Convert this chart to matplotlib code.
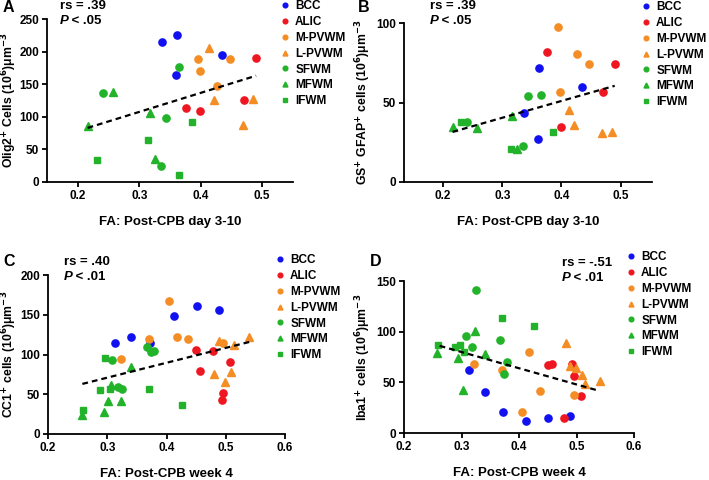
import numpy as np
import matplotlib
matplotlib.use('Agg')
import matplotlib.pyplot as plt

plt.rcParams['font.family'] = ['Liberation Sans', 'DejaVu Sans']
plt.rcParams['font.weight'] = 'bold'
plt.rcParams['mathtext.default'] = 'bf'

groups = ['BCC', 'ALIC', 'M-PVWM', 'L-PVWM', 'SFWM', 'MFWM', 'IFWM']
colors = ['#1010f0', '#ee1620', '#f58d25', '#f58d25', '#22b32a', '#22b32a', '#22b32a']
markers = ['o', 'o', 'o', '^', 'o', '^', 's']

# FA post-CPB day 3-10 (panels A, B)
x_day = [[0.337, 0.362, 0.360, 0.434],
         [0.376, 0.399, 0.470, 0.490],
         [0.395, 0.398, 0.447, 0.426],
         [0.413, 0.422, 0.469, 0.485],
         [0.241, 0.365, 0.344, 0.335],
         [0.216, 0.257, 0.317, 0.325],
         [0.231, 0.314, 0.386, 0.365]]

a_vals = [[214, 226, 164, 195],
          [114, 109, 126, 190],
          [188, 171, 188, 147],
          [205, 126, 87, 127],
          [137, 177, 98, 24],
          [86, 138, 106, 36],
          [34, 64, 92, 11]]

b_vals = [[43.4, 71.7, 27, 60],
          [81.8, 34.4, 56.8, 74],
          [97.5, 56.4, 74, 80.5],
          [45.5, 35.8, 30.8, 31.2],
          [37.5, 54.7, 54.1, 22.6],
          [34.6, 34.2, 41.3, 21],
          [37.7, 20.8, 31.4, np.nan]]

# FA post-CPB week 4 (panels C, D)
x_week = [[0.3135, 0.340, 0.372, 0.412, 0.451, 0.489],
          [0.450, 0.457, 0.478, 0.493, 0.496, 0.507],
          [0.3225, 0.371, 0.4045, 0.417, 0.437, 0.495],
          [0.481, 0.488, 0.499, 0.509, 0.514, 0.540],
          [0.308, 0.318, 0.325, 0.367, 0.374, 0.379],
          [0.258, 0.294, 0.302, 0.307, 0.324, 0.340],
          [0.2596, 0.288, 0.297, 0.305, 0.371, 0.426]]

c_vals = [[115, 122, 114, 148, 161, 156],
          [105.4, 79.5, 104.6, 42.7, 51.5, 90.4],
          [94, 119.7, 167, 122, 119, 114],
          [75, 117, 65, 78, 112, 122.6],
          [93, 59, 56, 109, 103, 104],
          [23.4, 28, 42, 61.5, 42, 84.5],
          [30, 55, 96, 57, 56, 37]]

d_vals = [[62.5, 40.8, 20.7, 12.2, 15.1, 16.8],
          [67.4, 68.4, 14.8, 67.8, 56.3, 36.2],
          [68, 62, 21, 80, 41, 37.5],
          [89, 66, 64, 57.6, 48, 51],
          [95.7, 85, 141.5, 91.4, 58, 69.7],
          [78.6, 74.3, 42.4, np.nan, 100.3, 78],
          [87, 85, 87, 80, 113, 106]]

# regression lines (end points)
fit_a = ([0.216, 0.49], [83, 163])
fit_b = ([0.216, 0.49], [31.5, 60.5])
fit_c = ([0.258, 0.541], [63, 116])
fit_d = ([0.262, 0.537], [86, 42])

stats = {'A': ('rs = .39', '.05'), 'B': ('rs = .39', '.05'),
         'C': ('rs = .40', '.01'), 'D': ('rs = -.51', '.01')}

W, H = 709, 480
fig = plt.figure(figsize=(W / 100, H / 100), dpi=100)


def px_axes(left, top, right, bottom):
    return fig.add_axes([left / W, 1 - bottom / H, (right - left) / W, (bottom - top) / H])


def draw_panel(ax, xs, ys, fit, xlim, ylim, xticks, yticks, xlabel, ylabel,
               ylab_px, leg_xy):
    for g, x, y, c, m in zip(groups, xs, ys, colors, markers):
        ms = {'o': 5.2, '^': 5.5, 's': 4.8}[m]
        ax.plot(x, y, ls='none', marker=m, ms=ms, color=c, mec=c, label=g,
                clip_on=False, zorder=3)
    ax.plot(fit[0], fit[1], ls=(0, (2.6, 1.8)), color='black', lw=1.6, zorder=4)

    ax.set_xlim(*xlim)
    ax.set_ylim(*ylim)
    ax.set_xticks(xticks)
    ax.set_yticks(yticks)
    ax.set_xticklabels(['%g' % t for t in xticks])
    ax.spines['top'].set_visible(False)
    ax.spines['right'].set_visible(False)
    for s in ['left', 'bottom']:
        ax.spines[s].set_linewidth(1.3)
    ax.tick_params(width=1.3, length=3.5, labelsize=8.5, pad=2)
    for lab in ax.get_xticklabels() + ax.get_yticklabels():
        lab.set_fontweight('bold')

    ax.set_xlabel(xlabel, fontsize=9.5, fontweight='bold', labelpad=10)
    ax.set_ylabel(ylabel, fontsize=8.8, fontweight='bold')
    # y label: right edge at a fixed pixel column
    bb = ax.get_position()
    ax.yaxis.set_label_coords((ylab_px / W - bb.x0) / bb.width, 0.5)

    ax.legend(loc='upper left', bbox_to_anchor=(leg_xy[0] / W, 1 - leg_xy[1] / H),
              bbox_transform=fig.transFigure, frameon=False,
              markerscale=0.65, handlelength=0.7, handletextpad=0.5,
              labelspacing=0.33, borderpad=0, borderaxespad=0,
              prop={'weight': 'bold', 'size': 8.5})


axA = px_axes(47, 19, 293, 182)
draw_panel(axA, x_day, a_vals, fit_a, (0.15, 0.55), (0, 250),
           [0.2, 0.3, 0.4, 0.5], [0, 50, 100, 150, 200, 250],
           'FA: Post-CPB day 3-10', r'Olig2$^{+}$ Cells (10$^{6}$)$\mathregular{\mu}$m$^{-3}$',
           19, (281, 0))

axB = px_axes(404, 23, 652, 182)
draw_panel(axB, x_day, b_vals, fit_b, (0.134, 0.553), (0, 100),
           [0.2, 0.3, 0.4, 0.5], [0, 50, 100],
           'FA: Post-CPB day 3-10', r'GS$^{+}$ GFAP$^{+}$ cells (10$^{6}$)$\mathregular{\mu}$m$^{-3}$',
           373, (642, 1))

axC = px_axes(48, 275, 285, 434)
draw_panel(axC, x_week, c_vals, fit_c, (0.2, 0.6), (0, 200),
           [0.2, 0.3, 0.4, 0.5, 0.6], [0, 50, 100, 150, 200],
           'FA: Post-CPB week 4', r'CC1$^{+}$ cells (10$^{6}$)$\mathregular{\mu}$m$^{-3}$',
           19, (276, 254))

axD = px_axes(404, 281, 634, 433)
draw_panel(axD, x_week, d_vals, fit_d, (0.2, 0.6), (0, 150),
           [0.2, 0.3, 0.4, 0.5, 0.6], [0, 50, 100, 150],
           'FA: Post-CPB week 4', r'Iba1$^{+}$ cells (10$^{6}$)$\mathregular{\mu}$m$^{-3}$',
           373, (627, 251))

# panel letters and statistics
letters = {'A': (3, 7), 'B': (358, 7), 'C': (3, 262), 'D': (370, 262)}
stat_pos = {'A': (60, 6), 'B': (430, 6), 'C': (64, 262), 'D': (562, 263)}
for k, (lx, ly) in letters.items():
    fig.text(lx / W, 1 - ly / H, k, fontsize=11.5, fontweight='bold', va='center')
    sx, sy = stat_pos[k]
    rs, p = stats[k]
    fig.text(sx / W, 1 - sy / H, rs, fontsize=9.5, fontweight='bold', va='center')
    fig.text(sx / W, 1 - (sy + 15) / H, 'P', fontsize=9.5,
             fontweight='bold', style='italic', va='center')
    fig.text((sx + 8) / W, 1 - (sy + 15) / H, ' < ' + p, fontsize=9.5,
             fontweight='bold', va='center')

fig.savefig('out.png', dpi=100)
